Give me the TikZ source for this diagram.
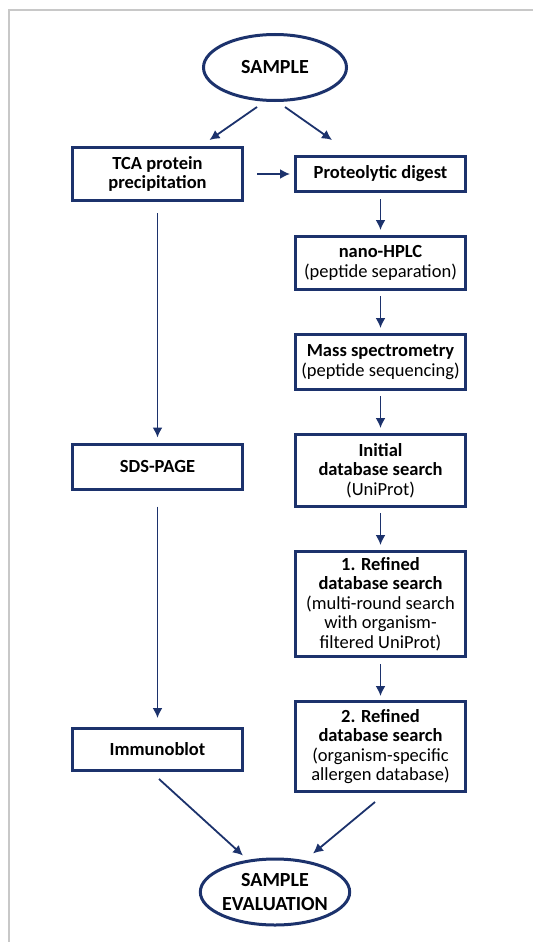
\documentclass[tikz,border=0pt]{standalone}
\usepackage{fontspec}
\setmainfont{Carlito}
\usetikzlibrary{shapes.geometric,
                arrows.meta,
                positioning}
\definecolor{navy}{RGB}{28,50,108}
\definecolor{framegray}{RGB}{200,200,200}
\tikzset{block/.style=
   {rectangle,
    draw=navy,
    line width=3pt,
    text centered,
    align=center,
    inner sep=3pt,
    minimum width=170pt,
    font=\fontsize{18.5}{19.5}\selectfont}}
\tikzset{terminal/.style =
   {ellipse,
    draw=navy,
    line width=3pt,
    text centered,
    align=center,
    inner sep=0pt,
    minimum width=143pt,
    minimum height=66pt,
    font=\fontsize{20}{24}\selectfont\bfseries}}
\tikzset{arrow/.style = {draw=navy, line width=1.8pt, -{Latex[length=10pt,width=10pt]}}}

\begin{document}
\begin{tikzpicture}[x=1pt, y=1pt]

    \useasboundingbox (0,0) rectangle (533,-942);
    \draw [framegray, line width=1.5pt] (9,-942) -- (9,-10) -- (533,-10);

    \node [terminal] (sample) at (275,-67.5) {SAMPLE};

    \node [block,
           minimum height=35pt] (prot) at (380.5,-174)
    {\textbf{Proteolytic digest}};

    \node [block,
           minimum height=53pt,
           left = 50pt of prot] (tca)
    {\textbf{TCA protein}\\\textbf{precipitation}};

    \node [block,
           minimum height=53pt,
           node distance = 42pt,
           below = of prot] (nano)
    {\textbf{nano-HPLC}\\(peptide separation)};

    \node [block,
           minimum height=55pt,
           node distance = 42pt,
           below = of nano] (mass)
    {\textbf{Mass spectrometry}\\(peptide sequencing)};

    \node [block,
           minimum height=72pt,
           node distance = 42pt,
           below = of mass] (init)
    {\textbf{Initial}\\\textbf{database search}\\(UniProt)};

    \node [block,
           minimum height=105pt,
           node distance = 42pt,
           below = of init] (ref1)
    {\textbf{1. Refined}\\\textbf{database search}\\(multi-round search\\with organism-\\filtered UniProt)};

    \node [block,
           minimum height=90pt,
           node distance = 42pt,
           below = of ref1] (ref2)
    {\textbf{2. Refined}\\\textbf{database search}\\(organism-specific\\allergen database)};

    \node [block,
           minimum height=45pt,
           left = 50pt of init,
           yshift=4pt] (sds)
    {\textbf{SDS-PAGE}};

    \node [block,
           minimum height=42pt,
           left = 50pt of ref2,
           yshift=-3pt] (immuno)
    {\textbf{Immunoblot}};

    \node [terminal] (eval) at (275,-892) {SAMPLE\\EVALUATION};

    % split of the sample
    \draw [arrow] ([shift={(-18pt,-5pt)}]sample.south) -- ([shift={(52pt,6pt)}]tca.north);
    \draw [arrow] ([shift={(10pt,-5pt)}]sample.south) -- ([shift={(-48.5pt,15pt)}]prot.north);
    \draw [arrow, shorten <=13pt, shorten >=4pt] (tca) -- (prot);

    % mass spectrometry branch
    \draw [arrow, shorten <=6pt, shorten >=5pt] (prot) -- (nano);
    \draw [arrow, shorten <=5pt, shorten >=5pt] (nano) -- (mass);
    \draw [arrow, shorten <=5pt, shorten >=5pt] (mass) -- (init);
    \draw [arrow, shorten <=5pt, shorten >=5pt] (init) -- (ref1);
    \draw [arrow, shorten <=6pt, shorten >=4pt] (ref1) -- (ref2);

    % gel branch
    \draw [arrow, shorten <=11pt, shorten >=5pt] (tca) -- (sds);
    \draw [arrow, shorten <=16pt, shorten >=9pt] (sds) -- (immuno);

    % evaluation
    \draw [arrow] ([shift={(1.5pt,-7pt)}]immuno.south) -- ([shift={(-32pt,2pt)}]eval.north);
    \draw [arrow] ([shift={(-5.5pt,-9pt)}]ref2.south) -- ([shift={(38pt,4pt)}]eval.north);

\end{tikzpicture}
\end{document}
